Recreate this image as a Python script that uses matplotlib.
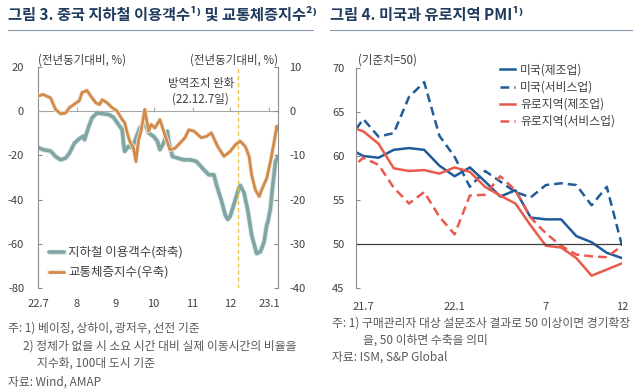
import numpy as np
import pandas as pd
import matplotlib
matplotlib.use('Agg')
import matplotlib.pyplot as plt
import matplotlib.dates as mdates
import matplotlib.patheffects as pe
from matplotlib.lines import Line2D

plt.rcParams['font.family'] = ['Noto Sans CJK KR', 'DejaVu Sans']
plt.rcParams['axes.unicode_minus'] = False

# ---- 그림 3 data ----
subway_dates = ['2022-07-01', '2022-07-05', '2022-07-11', '2022-07-15', '2022-07-19', '2022-07-23',
                '2022-07-26', '2022-07-30', '2022-08-03', '2022-08-06', '2022-08-07', '2022-08-10',
                '2022-08-13', '2022-08-17', '2022-08-22', '2022-08-26', '2022-08-30', '2022-09-03',
                '2022-09-06', '2022-09-07', '2022-09-08', '2022-09-11', '2022-09-14', '2022-09-16',
                '2022-09-20', '2022-09-24', '2022-09-27', '2022-10-01', '2022-10-04', '2022-10-06',
                '2022-10-09', '2022-10-12', '2022-10-13', '2022-10-16', '2022-10-20', '2022-10-25',
                '2022-10-30', '2022-11-04', '2022-11-10', '2022-11-14', '2022-11-18', '2022-11-20',
                '2022-11-24', '2022-11-27', '2022-11-29', '2022-12-01', '2022-12-04', '2022-12-08',
                '2022-12-09', '2022-12-12', '2022-12-15', '2022-12-18', '2022-12-22', '2022-12-25',
                '2022-12-28', '2022-12-30', '2022-12-31', '2023-01-02', '2023-01-03', '2023-01-06',
                '2023-01-08']
subway_yoy = [-16.4, -17.4, -18.0, -20.5, -22.0, -21.2,
              -19.0, -14.4, -12.4, -11.3, -12.9, -7.6,
              -3.0, -0.8, -1.2, -1.5, -2.7, -6.0,
              -8.3, -14.4, -18.2, -15.9, -16.6, -13.6,
              -7.6, -5.3, -9.8, -11.4, -13.6, -17.4,
              -14.4, -9.1, -13.6, -20.5, -21.2, -22.0,
              -22.0, -22.7, -26.5, -28.8, -28.8, -33.3,
              -40.5, -47.0, -49.0, -47.5, -42.0, -34.5,
              -33.6, -37.0, -45.0, -56.0, -64.4, -63.6,
              -59.0, -51.5, -50.0, -44.0, -37.9, -22.7,
              -20.5]

traffic_dates = ['2022-07-01', '2022-07-05', '2022-07-11', '2022-07-15', '2022-07-19', '2022-07-23',
                 '2022-07-26', '2022-07-30', '2022-08-03', '2022-08-05', '2022-08-09', '2022-08-12',
                 '2022-08-16', '2022-08-19', '2022-08-21', '2022-08-25', '2022-08-29', '2022-09-02',
                 '2022-09-06', '2022-09-08', '2022-09-10', '2022-09-12', '2022-09-15', '2022-09-17',
                 '2022-09-19', '2022-09-21', '2022-09-24', '2022-09-25', '2022-09-27', '2022-09-29',
                 '2022-10-02', '2022-10-06', '2022-10-09', '2022-10-14', '2022-10-18', '2022-10-22',
                 '2022-10-26', '2022-10-29', '2022-11-02', '2022-11-08', '2022-11-12', '2022-11-16',
                 '2022-11-21', '2022-11-26', '2022-12-01', '2022-12-05', '2022-12-09', '2022-12-13',
                 '2022-12-16', '2022-12-18', '2022-12-21', '2022-12-24', '2022-12-26', '2022-12-30',
                 '2023-01-02', '2023-01-05', '2023-01-07', '2023-01-08']
traffic_yoy = [3.4, 3.8, 3.0, 0.4, -0.6, -0.4,
               0.8, 1.6, 2.4, 4.2, 4.7, 3.4,
               1.9, 1.5, 2.6, 1.9, 0.8, 0.0,
               -1.9, -2.6, -4.9, -6.8, -8.4, -11.4,
               -6.5, -4.5, 0.4, -1.2, -4.5, -3.0,
               -3.8, -1.9, -4.5, -8.7, -8.4, -7.2,
               -6.0, -4.2, -4.5, -6.0, -5.7, -4.9,
               -8.0, -10.2, -9.1, -7.6, -6.8, -8.0,
               -10.2, -14.4, -17.8, -19.3, -17.8, -15.2,
               -11.4, -6.8, -3.4, -4.2]

month_ticks = ['2022-07-01', '2022-08-01', '2022-09-01', '2022-10-01', '2022-11-01', '2022-12-01', '2023-01-01']
month_labels = ['22.7', '8', '9', '10', '11', '12', '23.1']
easing_date = '2022-12-07'

# ---- 그림 4 data ----
pmi_months = ['21.6', '21.7', '21.8', '21.9', '21.10', '21.11', '21.12',
              '22.1', '22.2', '22.3', '22.4', '22.5', '22.6',
              '22.7', '22.8', '22.9', '22.10', '22.11', '22.12']
us_mfg = [60.9, 60.0, 59.8, 60.7, 60.9, 60.7, 58.9,
          57.7, 58.7, 57.1, 55.4, 56.1, 53.0,
          52.8, 52.8, 50.9, 50.2, 49.0, 48.4]
us_svc = [61.8, 64.2, 62.2, 62.6, 66.7, 68.4, 62.3,
          59.9, 56.5, 58.3, 57.1, 55.9, 55.3,
          56.7, 56.9, 56.7, 54.4, 56.5, 49.8]
ez_mfg = [63.4, 62.8, 61.4, 58.6, 58.3, 58.4, 58.0,
          58.7, 58.2, 56.5, 55.5, 54.6, 52.1,
          49.8, 49.6, 48.4, 46.4, 47.1, 47.8]
ez_svc = [58.3, 59.8, 59.0, 56.4, 54.6, 55.9, 53.1,
          51.1, 55.5, 55.6, 57.7, 56.1, 53.0,
          51.2, 49.8, 48.8, 48.6, 48.5, 49.8]
pmi_tick_months = ['21.7', '22.1', '22.7', '22.12']
pmi_tick_labels = ['21.7', '22.1', '7', '12']

W, H = 640, 389
navy = '#1f3b5e'
txt = '#404040'
note = '#595959'
grey = '#8c8c8c'
teal = '#7fa6a3'
orange = '#cf8a4c'
blue = '#1f5c99'
red = '#ea5a4c'

fig = plt.figure(figsize=(W / 100, H / 100), dpi=100)

# titles and rules
fig.text(8 / W, 1 - 15 / H, '그림 3. 중국 지하철 이용객수¹⁾ 및 교통체증지수²⁾',
         fontsize=11, fontweight='bold', color=navy, va='center')
fig.text(330 / W, 1 - 15 / H, '그림 4. 미국과 유로지역 PMI¹⁾',
         fontsize=11, fontweight='bold', color=navy, va='center')
fig.add_artist(Line2D([8 / W, 313 / W], [1 - 30 / H] * 2, color='#8a9bb0', lw=0.8))
fig.add_artist(Line2D([330 / W, 632 / W], [1 - 30 / H] * 2, color='#8a9bb0', lw=0.8))

# ---------------- left panel ----------------
ax1 = fig.add_axes([38 / W, 1 - 288 / H, 240 / W, 221 / H])
ax2 = ax1.twinx()

sd = pd.to_datetime(subway_dates)
td = pd.to_datetime(traffic_dates)
l1, = ax1.plot(sd, subway_yoy, color=teal, lw=2.6, solid_capstyle='round',
               path_effects=[pe.Stroke(linewidth=3.8, foreground='#dbe7e6'), pe.Normal()],
               label='지하철 이용객수(좌축)')
l2, = ax2.plot(td, traffic_yoy, color=orange, lw=2.0, solid_capstyle='round',
               path_effects=[pe.Stroke(linewidth=3.2, foreground='#f8e6d5'), pe.Normal()],
               label='교통체증지수(우축)')

ax1.set_xlim(pd.Timestamp('2022-07-01'), pd.Timestamp('2023-01-08'))
ax1.set_ylim(-80, 20)
ax2.set_ylim(-40, 10)
ax1.set_yticks(np.arange(-80, 21, 20))
ax2.set_yticks(np.arange(-40, 11, 10))

for s in ['top', 'right']:
    ax1.spines[s].set_visible(False)
for s in ['top', 'left', 'bottom']:
    ax2.spines[s].set_visible(False)
ax1.spines['left'].set_color(grey)
ax2.spines['right'].set_color(grey)
ax1.spines['left'].set_linewidth(0.8)
ax2.spines['right'].set_linewidth(0.8)
ax1.spines['bottom'].set_position(('data', 0))
ax1.spines['bottom'].set_color('#a6a6a6')
ax1.spines['bottom'].set_linewidth(0.8)

ax1.set_xticks(pd.to_datetime(month_ticks))
ax1.tick_params(axis='x', direction='in', length=3, color='#a6a6a6', labelbottom=False)
ax1.tick_params(axis='y', direction='in', length=3, color=grey, labelsize=8, labelcolor=txt, pad=10)
ax2.tick_params(axis='y', direction='in', length=3, color=grey, labelsize=8, labelcolor=txt, pad=8)

sec = ax1.secondary_xaxis('bottom')
sec.set_xticks(mdates.date2num(pd.to_datetime(month_ticks)))
sec.set_xticklabels(month_labels)
sec.tick_params(length=0, labelsize=8, labelcolor=txt, pad=8)
sec.spines['bottom'].set_visible(False)

ax1.axvline(pd.Timestamp(easing_date), color='#f0c24a', lw=1.0, ls=(0, (3, 2)))
ax1.text(pd.Timestamp(easing_date) - pd.Timedelta(days=3), 9, '방역조치 완화\n(22.12.7일)',
         ha='right', va='center', multialignment='center', fontsize=8.3, color=txt, linespacing=1.3)

fig.text(38 / W, 1 - 60 / H, '(전년동기대비, %)', fontsize=8.3, color=txt, va='center', ha='left')
fig.text(278 / W, 1 - 60 / H, '(전년동기대비, %)', fontsize=8.3, color=txt, va='center', ha='right')

fig.legend(handles=[l1, l2], loc='upper left', bbox_to_anchor=(49 / W, 1 - 246 / H),
           frameon=False, fontsize=9, handlelength=1.2, handletextpad=0.35,
           labelspacing=0.55, borderpad=0, borderaxespad=0, labelcolor=txt)

# ---------------- right panel ----------------
ax3 = fig.add_axes([355.7 / W, 1 - 288 / H, 266.3 / W, 220 / H])
xi = np.arange(len(pmi_months)) - 1
ax3.plot(xi, us_mfg, color=blue, lw=1.8, label='미국(제조업)')
ax3.plot(xi, us_svc, color=blue, lw=1.8, ls=(0, (3.5, 2)), label='미국(서비스업)')
ax3.plot(xi, ez_mfg, color=red, lw=1.8, label='유로지역(제조업)')
ax3.plot(xi, ez_svc, color=red, lw=1.8, ls=(0, (3.5, 2)), label='유로지역(서비스업)')
ax3.axhline(50, color='#404040', lw=0.9)

ax3.set_xlim(-0.5, 17)
ax3.set_ylim(45, 70)
ax3.set_yticks(np.arange(45, 71, 5))
ax3.set_xticks([pmi_months.index(m) - 1 for m in pmi_tick_months])
ax3.set_xticklabels(pmi_tick_labels)
for s in ['top', 'right', 'bottom']:
    ax3.spines[s].set_visible(False)
ax3.spines['left'].set_color(grey)
ax3.spines['left'].set_linewidth(0.8)
ax3.tick_params(axis='y', direction='in', length=3, color=grey, labelsize=8, labelcolor=txt, pad=8)
ax3.tick_params(axis='x', length=0, labelsize=8, labelcolor=txt, pad=10)

fig.text(358 / W, 1 - 60 / H, '(기준치=50)', fontsize=8.3, color=txt, va='center', ha='left')
ax3.legend(loc='upper left', bbox_to_anchor=((500 - 355.7) / 266.3, 1.02),
           frameon=False, fontsize=8.5, handlelength=1.3, handletextpad=0.4,
           labelspacing=0.35, borderpad=0, borderaxespad=0, labelcolor=txt)

# ---------------- footnotes ----------------
fs = 8.5
fig.text(8 / W, 1 - 328 / H, '주: 1) 베이징, 상하이, 광저우, 선전 기준', fontsize=fs, color=note, va='center')
fig.text(23 / W, 1 - 346 / H, '2) 정체가 없을 시 소요 시간 대비 실제 이동시간의 비율을', fontsize=fs, color=note, va='center')
fig.text(37 / W, 1 - 363 / H, '지수화, 100대 도시 기준', fontsize=fs, color=note, va='center')
fig.text(8 / W, 1 - 382 / H, '자료: Wind, AMAP', fontsize=fs, color=note, va='center')

fig.text(332 / W, 1 - 323 / H, '주: 1) 구매관리자 대상 설문조사 결과로 50 이상이면 경기확장', fontsize=fs, color=note, va='center')
fig.text(363 / W, 1 - 340 / H, '을, 50 이하면 수축을 의미', fontsize=fs, color=note, va='center')
fig.text(332 / W, 1 - 357 / H, '자료: ISM, S&P Global', fontsize=fs, color=note, va='center')

fig.savefig('out.png', dpi=100, facecolor='white')
